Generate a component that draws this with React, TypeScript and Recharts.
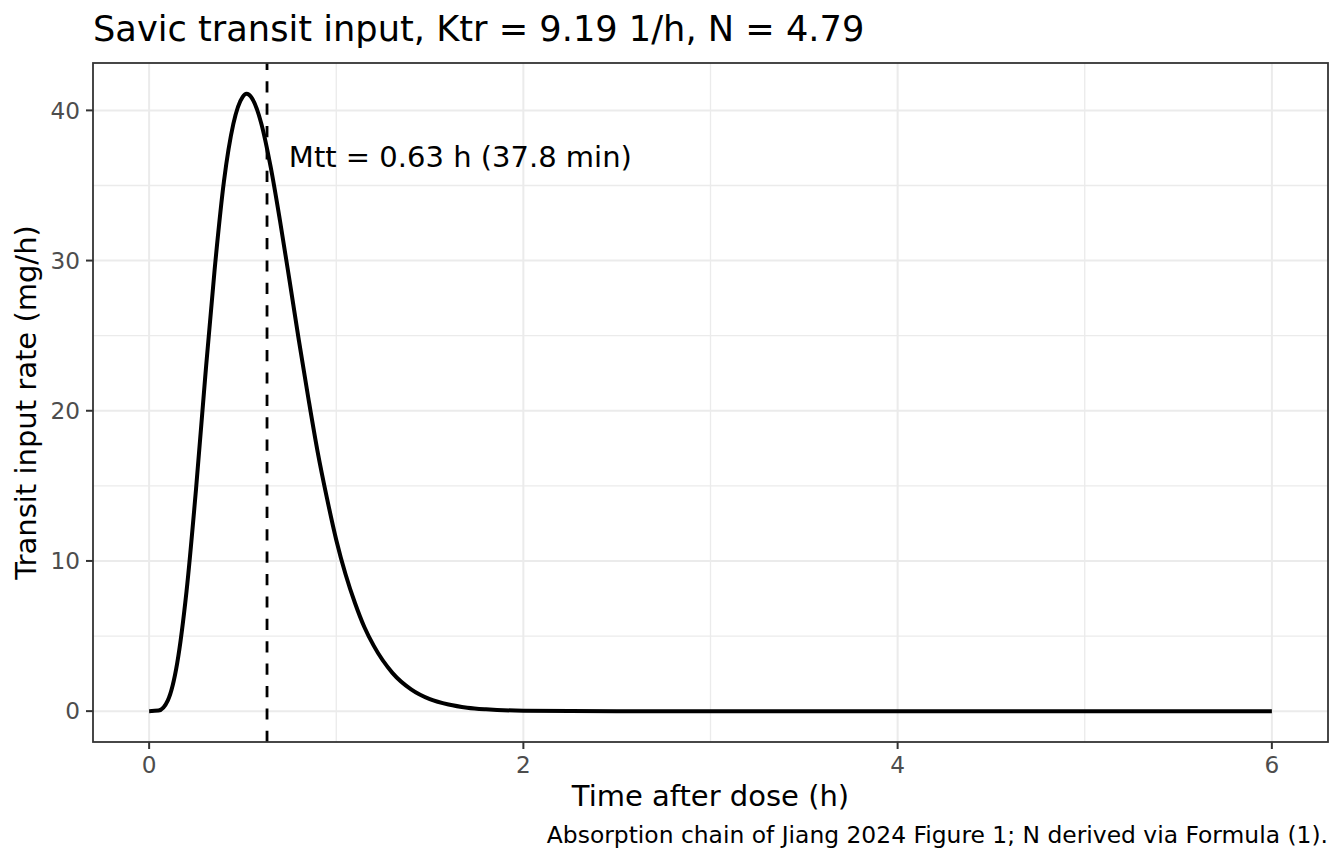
import React from 'react';
import {
  LineChart,
  Line,
  XAxis,
  YAxis,
  CartesianGrid,
  ReferenceLine,
  ReferenceDot,
} from 'recharts';

// Valores (tempo em h, taxa em mg/h)
const tempos = [
  0, 0.05, 0.1, 0.15, 0.2, 0.25, 0.3, 0.35, 0.4, 0.45, 0.5, 0.52, 0.55, 0.6,
  0.65, 0.7, 0.75, 0.8, 0.85, 0.9, 0.95, 1.0, 1.05, 1.1, 1.15, 1.2, 1.3, 1.4,
  1.5, 1.6, 1.7, 1.8, 2.0, 2.25, 2.5, 3.0, 3.5, 4.0, 4.5, 5.0, 5.5, 6.0,
];
const taxas = [
  0, 0.04, 0.72, 3.2, 8.0, 14.7, 22.3, 29.4, 35.3, 39.1, 40.9, 41.1, 40.8, 39.1,
  36.2, 32.6, 28.7, 24.7, 20.9, 17.3, 14.2, 11.4, 9.1, 7.2, 5.6, 4.36, 2.55, 1.45,
  0.8, 0.44, 0.23, 0.12, 0.03, 0.01, 0, 0, 0, 0, 0, 0, 0, 0,
];

const ticksX = [0, 2, 4, 6];
const ticksY = [0, 10, 20, 30, 40];
const minorX = [1, 3, 5];
const minorY = [5, 15, 25, 35];

const mtt = 0.63;
const rotuloMtt = 'Mtt = 0.63 h (37.8 min)';

const titulo = 'Savic transit input, Ktr = 9.19 1/h, N = 4.79';
const tituloX = 'Time after dose (h)';
const tituloY = 'Transit input rate (mg/h)';
const legenda = 'Absorption chain of Jiang 2024 Figure 1; N derived via Formula (1).';

const dados = tempos.map((t, i) => ({ t, taxa: taxas[i] }));

const fonte = 'DejaVu Sans';
const W = 1344;
const H = 864;
const painel = { left: 93, top: 63, right: 1328, bottom: 742 };

export default function App() {
  return (
    <div
      style={{
        position: 'absolute',
        left: 0,
        top: 0,
        width: W,
        height: H,
        background: '#fff',
        fontFamily: fonte,
      }}
    >
      <LineChart
        width={W}
        height={H}
        data={dados}
        margin={{ top: painel.top, right: W - painel.right, bottom: 82, left: 13 }}
      >
        <CartesianGrid
          horizontalValues={minorY}
          verticalValues={minorX}
          stroke="#EBEBEB"
          strokeWidth={1.3}
        />
        <CartesianGrid
          horizontalValues={ticksY}
          verticalValues={ticksX}
          stroke="#EBEBEB"
          strokeWidth={2}
        />
        <XAxis
          dataKey="t"
          type="number"
          domain={[-0.3, 6.3]}
          ticks={ticksX}
          allowDataOverflow
          height={40}
          axisLine={false}
          tickSize={7}
          tickMargin={8}
          tickLine={{ stroke: '#333333', strokeWidth: 2 }}
          tick={{ fontSize: 23.2, fill: '#4D4D4D', fontFamily: fonte }}
        />
        <YAxis
          type="number"
          domain={[-2.055, 43.155]}
          ticks={ticksY}
          allowDataOverflow
          width={80}
          axisLine={false}
          tickSize={7}
          tickMargin={6}
          tickLine={{ stroke: '#333333', strokeWidth: 2 }}
          tick={{ fontSize: 23.2, fill: '#4D4D4D', fontFamily: fonte }}
        />
        <ReferenceLine
          x={mtt}
          stroke="#000"
          strokeWidth={2.8}
          strokeDasharray="11.2 11.2"
        />
        <ReferenceDot
          x={0.72}
          y={36.9}
          r={0}
          fill="none"
          stroke="none"
          label={{
            value: rotuloMtt,
            position: 'right',
            fontSize: 29,
            fill: '#000',
            fontFamily: fonte,
          }}
        />
        <Line
          type="monotone"
          dataKey="taxa"
          stroke="#000"
          strokeWidth={4}
          dot={false}
          activeDot={false}
          isAnimationActive={false}
        />
      </LineChart>
      <svg
        width={W}
        height={H}
        style={{ position: 'absolute', left: 0, top: 0, pointerEvents: 'none' }}
      >
        <rect
          x={painel.left}
          y={painel.top}
          width={painel.right - painel.left}
          height={painel.bottom - painel.top}
          fill="none"
          stroke="#333333"
          strokeWidth={1.8}
        />
        <text x={93} y={41} fontSize={35.2} fill="#000" fontFamily={fonte}>
          {titulo}
        </text>
        <text x={710.5} y={806} fontSize={29} fill="#000" fontFamily={fonte} textAnchor="middle">
          {tituloX}
        </text>
        <text
          transform="translate(36,402.5) rotate(-90)"
          fontSize={29}
          fill="#000"
          fontFamily={fonte}
          textAnchor="middle"
        >
          {tituloY}
        </text>
        <text x={1328} y={843} fontSize={23.4} fill="#000" fontFamily={fonte} textAnchor="end">
          {legenda}
        </text>
      </svg>
    </div>
  );
}
